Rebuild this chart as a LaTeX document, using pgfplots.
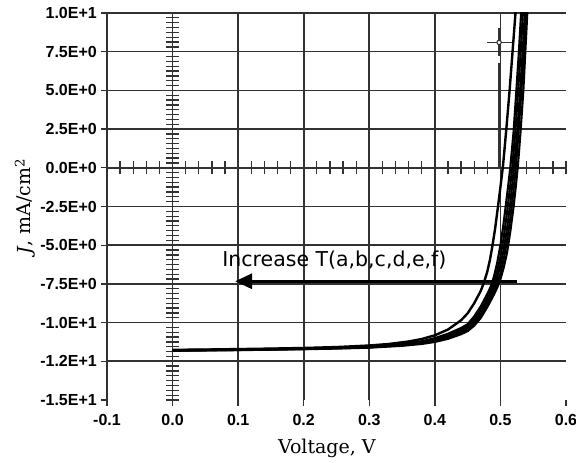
\documentclass[border=0pt]{standalone}
\usepackage{fontspec}
\setmainfont{DejaVu Serif}
\newfontfamily\tickfont{Liberation Sans Bold}
\newfontfamily\annfont{DejaVu Sans}
\usepackage{pgfplots}
\pgfplotsset{compat=1.18}
\usetikzlibrary{arrows.meta}
\definecolor{gridc}{RGB}{50,50,50}
\begin{document}
\begin{tikzpicture}
\path[use as bounding box] (-107pt,-63pt) rectangle (469pt,400pt);
% crosshair axis (background)
\begin{axis}[
  scale only axis, width=459pt, height=387pt,
  xmin=-0.1, xmax=0.6, ymin=-15, ymax=10,
  axis lines=middle, axis line style={-, gridc, line width=1.6pt},
  xtick={-0.1,0,0.1,0.2,0.3,0.4,0.5,0.6}, minor x tick num=4,
  ytick={-15,-12.5,-10,-7.5,-5,-2.5,0,2.5,5,7.5,10}, minor y tick num=7,
  xticklabels={}, yticklabels={},
  tick align=center, major tick length=13pt, minor tick length=13pt,
  tick style={gridc, line width=1.3pt},
]
\end{axis}
\begin{axis}[
  scale only axis, width=459pt, height=387pt,
  xmin=-0.1, xmax=0.6, ymin=-15, ymax=10,
  axis lines*=left,
  x axis line style={draw=none},
  y axis line style={gridc, line width=1.6pt},
  xtick={-0.1,0,0.1,0.2,0.3,0.4,0.5},
  xticklabels={-0.1,0.0,0.1,0.2,0.3,0.4,0.5},
  extra x ticks={0.6}, extra x tick labels={0.6},
  extra x tick style={grid=none},
  ytick={-12.5,-10,-7.5,-5,-2.5,0,2.5,5,7.5,10},
  yticklabels={-1.2E+1,-1.0E+1,-7.5E+0,-5.0E+0,-2.5E+0,0.0E+0,2.5E+0,5.0E+0,7.5E+0,1.0E+1},
  extra y ticks={-15}, extra y tick labels={-1.5E+1},
  extra y tick style={grid=none},
  xmajorgrids, ymajorgrids,
  grid style={gridc, line width=1.6pt},
  tick align=outside, major tick length=6pt,
  tick style={gridc, line width=1.3pt},
  ticklabel style={font=\tickfont\fontsize{16}{18}\selectfont},
  yticklabel style={anchor=east, inner sep=0pt, xshift=-4pt},
  xticklabel style={anchor=north, inner sep=0pt, yshift=-8pt},
  xlabel={Voltage, V},
  ylabel={\textit{J}, mA/cm\textsuperscript{2}},
  label style={font=\fontsize{19}{22}\selectfont},
  xlabel style={at={(axis description cs:0.479,-0.137)}, anchor=base},
  ylabel style={at={(axis description cs:-0.179,0.5)}, anchor=center},
  clip=true,
]
% curve f (left)
\addplot[black, line width=2.4pt, line join=round] coordinates {
(0,-11.76) (0.05,-11.74) (0.1,-11.71) (0.15,-11.68) (0.2,-11.64) (0.25,-11.58)
(0.3,-11.48) (0.33,-11.38) (0.36,-11.22) (0.38,-11.06) (0.4,-10.82) (0.42,-10.45)
(0.44,-9.85) (0.45,-9.4) (0.46,-8.75) (0.47,-7.95) (0.475,-7.4) (0.48,-6.7)
(0.484,-5.95) (0.488,-5.0) (0.492,-3.9) (0.496,-2.6) (0.5,-1.25) (0.504,0.15)
(0.509,2.5) (0.514,5.0) (0.5185,7.5) (0.523,10.0) (0.525,11.2)};
% curve e
\addplot[black, line width=2.1pt, line join=round] coordinates {
(0,-11.78) (0.05,-11.76) (0.1,-11.73) (0.15,-11.7) (0.2,-11.66) (0.25,-11.61)
(0.3,-11.54) (0.35,-11.38) (0.38,-11.2) (0.4,-11.0) (0.42,-10.72) (0.44,-10.35)
(0.45,-10.1) (0.46,-9.6) (0.47,-8.95) (0.48,-8.15) (0.485,-7.7) (0.49,-7.05)
(0.495,-6.15) (0.5,-5.0) (0.504,-3.85) (0.508,-2.5) (0.512,-1.1) (0.515,0.0)
(0.52,2.3) (0.524,4.8) (0.528,7.4) (0.531,9.6) (0.533,11)};
% curve d
\addplot[black, line width=2.1pt, line join=round] coordinates {
(0,-11.79) (0.1,-11.74) (0.2,-11.68) (0.3,-11.56) (0.35,-11.41) (0.38,-11.25)
(0.4,-11.06) (0.42,-10.8) (0.44,-10.45) (0.45,-10.22) (0.46,-9.75) (0.47,-9.15)
(0.48,-8.4) (0.49,-7.4) (0.495,-6.7) (0.5,-5.75) (0.505,-4.5) (0.51,-2.9)
(0.514,-1.5) (0.518,0.0) (0.523,2.45) (0.527,5.0) (0.531,7.5) (0.534,9.8) (0.536,11)};
% curve c
\addplot[black, line width=2.1pt, line join=round] coordinates {
(0,-11.8) (0.1,-11.76) (0.2,-11.7) (0.3,-11.58) (0.35,-11.44) (0.38,-11.29)
(0.4,-11.12) (0.42,-10.88) (0.44,-10.55) (0.45,-10.33) (0.46,-9.9) (0.47,-9.33)
(0.48,-8.6) (0.49,-7.7) (0.495,-7.1) (0.5,-6.3) (0.505,-5.3) (0.51,-3.95)
(0.515,-2.3) (0.52,-0.3) (0.521,0.1) (0.526,2.5) (0.53,5.0) (0.534,7.5) (0.537,9.8) (0.539,11)};
% curve b
\addplot[black, line width=2.1pt, line join=round] coordinates {
(0,-11.81) (0.1,-11.77) (0.2,-11.71) (0.3,-11.6) (0.35,-11.47) (0.38,-11.33)
(0.4,-11.18) (0.42,-10.96) (0.44,-10.65) (0.45,-10.44) (0.46,-10.05) (0.47,-9.52)
(0.48,-8.8) (0.49,-7.95) (0.495,-7.45) (0.5,-6.8) (0.505,-5.9) (0.51,-4.75)
(0.515,-3.3) (0.52,-1.45) (0.5235,0.0) (0.528,2.5) (0.532,5.0) (0.536,7.5) (0.539,9.9) (0.541,11)};
% curve a (right)
\addplot[black, line width=2.1pt, line join=round] coordinates {
(0,-11.82) (0.05,-11.8) (0.1,-11.78) (0.15,-11.75) (0.2,-11.72) (0.25,-11.68)
(0.3,-11.62) (0.35,-11.5) (0.38,-11.38) (0.4,-11.25) (0.42,-11.05) (0.44,-10.75)
(0.45,-10.55) (0.46,-10.2) (0.47,-9.7) (0.48,-9.0) (0.49,-8.2) (0.495,-7.75)
(0.5,-7.2) (0.505,-6.45) (0.51,-5.5) (0.515,-4.15) (0.52,-2.55) (0.524,-1.0)
(0.527,0.3) (0.531,2.5) (0.535,5.0) (0.538,7.5) (0.541,10) (0.543,11.5)};
% cursor
\addplot[gridc, line width=1.3pt] coordinates {(0.480,8.1) (0.518,8.1)};
\addplot[gridc, line width=1.3pt] coordinates {(0.498,9.0) (0.498,7.2)};
\addplot[gridc, line width=1.3pt] coordinates {(0.498,6.8) (0.498,0.0)};
\addplot[only marks, mark=*, mark size=2.2pt, mark options={fill=white, draw=gridc, line width=1.1pt}] coordinates {(0.498,8.1)};
% arrow
\addplot[black, line width=3.2pt, -{Triangle[length=17pt,width=15pt]}] coordinates {(0.526,-7.33) (0.0954,-7.33)};
\node[anchor=base west, inner sep=0pt, font=\annfont\fontsize{20.5}{24}\selectfont] at (axis cs:0.0756,-6.38) {Increase T(a,b,c,d,e,f)};
\end{axis}
\end{tikzpicture}
\end{document}
